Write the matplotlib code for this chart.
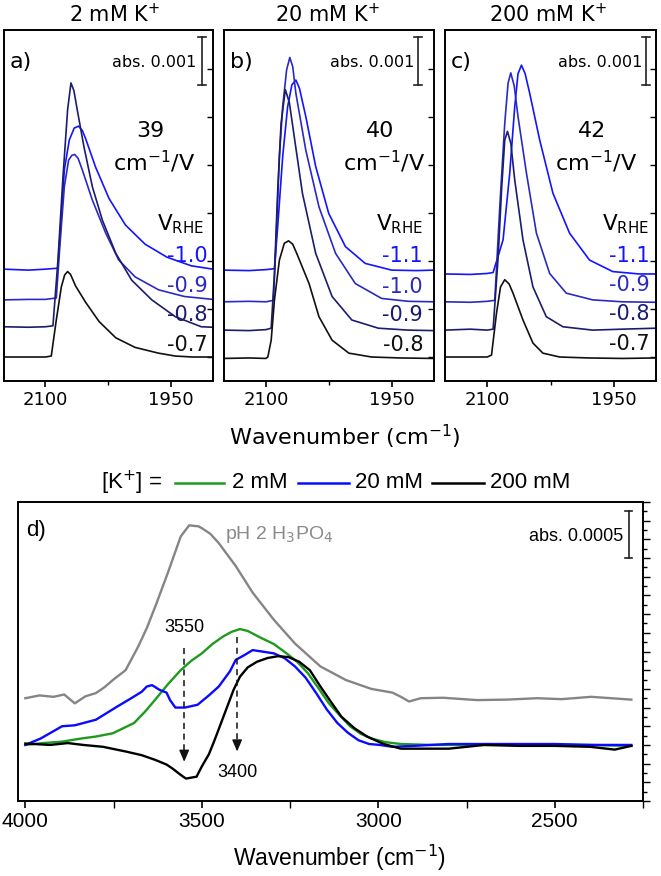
import matplotlib
matplotlib.use("Agg")
import matplotlib.pyplot as plt
from matplotlib import font_manager
from matplotlib.lines import Line2D
from matplotlib.ticker import MultipleLocator, FixedLocator, NullFormatter

# ---------------- data: top panels (absorbance in units of 1e-3, stacked offsets) -------------
# panel a: 2 mM K+
a_m07_wn = [2150, 2120, 2100, 2093, 2087, 2081, 2077, 2073.5, 2070, 2064, 2052, 2036, 2016, 1993, 1965, 1945, 1925, 1900]
a_m07_y  = [0.50, 0.50, 0.50, 0.52, 1.27, 1.96, 2.21, 2.28, 2.22, 1.98, 1.64, 1.24, 0.90, 0.70, 0.58, 0.52, 0.50, 0.50]
a_m08_wn = [2150, 2120, 2100, 2091, 2085, 2079, 2073.5, 2069.5, 2066, 2062, 2054, 2044, 2032, 2016, 1997, 1973, 1945, 1914, 1900]
a_m08_y  = [1.13, 1.12, 1.13, 1.15, 2.52, 4.26, 5.65, 6.21, 6.05, 5.65, 4.88, 4.05, 3.35, 2.66, 2.10, 1.69, 1.34, 1.13, 1.12]
a_m09_wn = [2150, 2120, 2100, 2087, 2082.5, 2077.4, 2072.3, 2068.5, 2065, 2061, 2056, 2044, 2028, 2012.5, 1993, 1965, 1934, 1900]
a_m09_y  = [1.69, 1.70, 1.70, 1.73, 2.87, 4.05, 4.60, 4.70, 4.72, 4.64, 4.40, 3.77, 3.08, 2.52, 2.17, 1.90, 1.76, 1.70]
a_m10_wn = [2150, 2120, 2100, 2085.3, 2081.3, 2077.4, 2071.5, 2065.6, 2060.5, 2056, 2052, 2040, 2024, 2004.5, 1981, 1955, 1926, 1900]
a_m10_y  = [2.33, 2.31, 2.33, 2.35, 3.35, 4.40, 5.02, 5.27, 5.31, 5.22, 5.05, 4.45, 3.80, 3.25, 2.85, 2.58, 2.40, 2.33]

# panel b: 20 mM K+
b_m08_wn = [2150, 2120, 2100, 2097.7, 2093.7, 2089.8, 2083.9, 2078, 2073, 2068, 2063, 2048.5, 2036.7, 2021, 2001, 1974, 1940, 1900]
b_m08_y  = [0.47, 0.48, 0.47, 0.50, 0.85, 1.69, 2.52, 2.87, 2.92, 2.85, 2.65, 2.03, 1.34, 0.85, 0.58, 0.50, 0.48, 0.47]
b_m09_wn = [2150, 2120, 2100, 2093.7, 2089.8, 2085.9, 2081.9, 2076.8, 2072, 2065.6, 2056.4, 2040.6, 2021, 1997.4, 1965.8, 1930, 1900]
b_m09_y  = [1.06, 1.05, 1.07, 1.10, 2.24, 3.98, 5.37, 6.07, 5.80, 5.02, 3.91, 2.66, 1.76, 1.27, 1.10, 1.06, 1.05]
b_m10_wn = [2150, 2120, 2100, 2091, 2087.8, 2083.9, 2080, 2075.3, 2071.5, 2068, 2064.2, 2052.4, 2036.7, 2016.9, 1993.3, 1961.9, 1930, 1900]
b_m10_y  = [1.65, 1.66, 1.65, 1.68, 2.94, 4.67, 5.71, 6.48, 6.74, 6.55, 5.99, 4.81, 3.63, 2.66, 2.03, 1.72, 1.66, 1.65]
b_m11_wn = [2150, 2120, 2100, 2089.8, 2085.9, 2080, 2074.1, 2069, 2064.2, 2060, 2052.4, 2040.6, 2025, 2005.1, 1981.5, 1950, 1920, 1900]
b_m11_y  = [2.31, 2.30, 2.32, 2.34, 3.22, 4.67, 5.71, 6.17, 6.27, 6.10, 5.51, 4.47, 3.49, 2.80, 2.45, 2.31, 2.30, 2.31]

# panel c: 200 mM K+
c_m07_wn = [2150, 2120, 2100, 2094.9, 2089, 2084.2, 2079.2, 2074, 2069.4, 2057.6, 2045.8, 2034, 2014.2, 1980, 1940, 1900]
c_m07_y  = [0.50, 0.50, 0.50, 0.54, 1.41, 1.96, 2.11, 2.02, 1.83, 1.27, 0.79, 0.58, 0.50, 0.48, 0.47, 0.48]
c_m08_wn = [2150, 2120, 2100, 2093, 2087, 2083, 2079.2, 2076, 2072, 2067.4, 2057.6, 2045.8, 2030, 2010.3, 1975, 1940, 1900]
c_m08_y  = [1.06, 1.08, 1.06, 1.08, 2.59, 3.98, 5.02, 5.20, 4.95, 4.19, 2.94, 1.96, 1.34, 1.13, 1.06, 1.08, 1.10]
c_m09_wn = [2150, 2120, 2100, 2091, 2085.1, 2079.2, 2075.3, 2072.1, 2068, 2063.5, 2053.5, 2041.7, 2026, 2006.3, 1975, 1940, 1900]
c_m09_y  = [1.65, 1.64, 1.66, 1.68, 3.63, 5.37, 6.20, 6.42, 6.15, 5.51, 4.33, 3.08, 2.24, 1.83, 1.69, 1.65, 1.64]
c_m11_wn = [2150, 2120, 2100, 2093, 2081.2, 2073.3, 2067.4, 2063.5, 2059.4, 2055, 2049.6, 2037.8, 2022.1, 2002.4, 1978.8, 1951.3, 1920, 1900]
c_m11_y  = [2.23, 2.22, 2.24, 2.26, 2.94, 4.33, 5.71, 6.40, 6.58, 6.40, 5.99, 5.02, 3.91, 3.08, 2.52, 2.28, 2.23, 2.23]

panel_titles = ["2 mM K$^{+}$", "20 mM K$^{+}$", "200 mM K$^{+}$"]
panel_letters = ["a)", "b)", "c)"]
slopes = ["39", "40", "42"]
a_labels = ["-1.0", "-0.9", "-0.8", "-0.7"]
b_labels = ["-1.1", "-1.0", "-0.9", "-0.8"]
c_labels = ["-1.1", "-0.9", "-0.8", "-0.7"]

# ---------------- data: panel d (absorbance in units of 1e-4) ----------------
gray_wn = [4000, 3960, 3920, 3890, 3860, 3830, 3800, 3775, 3752, 3716, 3680, 3656, 3632, 3596, 3560, 3536,
           3510, 3500, 3476, 3452, 3404, 3356, 3296, 3236, 3164, 3092, 3020, 2960, 2936, 2913, 2880, 2817,
           2720, 2637, 2550, 2480, 2397, 2340, 2283]
gray_y = [11.0, 11.3, 11.15, 11.4, 10.45, 11.2, 11.55, 12.2, 12.95, 14.0, 16.55, 18.5, 20.8, 24.45, 28.3, 29.5,
          29.4, 29.2, 28.6, 27.6, 25.15, 22.3, 19.4, 16.85, 14.4, 12.95, 12.0, 11.6, 11.15, 10.65, 11.0, 11.05,
          10.8, 10.85, 11.0, 10.9, 11.15, 11.0, 10.85]
green_wn = [4000, 3950, 3896, 3840, 3800, 3752, 3692, 3660, 3632, 3596, 3560, 3530, 3500, 3470, 3440, 3416,
            3392, 3370, 3332, 3296, 3260, 3230, 3200, 3170, 3140, 3110, 3080, 3050, 3020, 2980, 2936, 2850,
            2700, 2550, 2400, 2283]
green_y = [6.0, 6.2, 6.35, 6.7, 6.9, 7.25, 8.35, 9.6, 10.85, 12.5, 14.0, 15.0, 15.8, 16.8, 17.6, 18.1,
           18.4, 18.2, 17.45, 16.8, 15.8, 14.9, 13.7, 12.1, 10.45, 9.2, 8.0, 7.2, 6.7, 6.3, 6.1, 6.0,
           6.0, 6.0, 6.0, 5.9]
blue_wn = [4000, 3956, 3896, 3860, 3800, 3770, 3740, 3700, 3670, 3656, 3641, 3620, 3600, 3590, 3575, 3548,
           3512, 3480, 3452, 3420, 3404, 3380, 3356, 3330, 3296, 3266, 3236, 3206, 3176, 3146, 3116, 3086,
           3056, 3026, 2996, 2960, 2900, 2800, 2700, 2600, 2500, 2400, 2283]
blue_y = [6.0, 6.7, 8.0, 8.1, 8.7, 9.4, 10.1, 11.0, 11.7, 12.25, 12.4, 11.9, 11.6, 10.8, 10.0, 10.0,
          10.3, 11.3, 12.25, 13.9, 15.1, 15.6, 16.15, 16.0, 15.8, 15.3, 14.4, 13.2, 11.55, 9.8, 8.35, 7.3,
          6.5, 6.1, 6.0, 5.8, 5.9, 6.1, 6.1, 6.1, 6.1, 6.0, 6.0]
black_wn = [4000, 3930, 3880, 3836, 3780, 3716, 3670, 3632, 3600, 3584, 3560, 3545, 3530, 3515, 3500, 3480,
            3464, 3445, 3428, 3410, 3392, 3370, 3344, 3314, 3284, 3254, 3224, 3194, 3164, 3134, 3104, 3068,
            3032, 2985, 2936, 2880, 2800, 2700, 2600, 2500, 2400, 2330, 2283]
black_y = [6.15, 6.0, 6.2, 6.0, 5.8, 5.3, 4.9, 4.4, 3.9, 3.5, 2.8, 2.4, 2.5, 2.6, 3.7, 5.0,
           6.5, 8.4, 10.1, 11.9, 13.3, 14.3, 14.9, 15.3, 15.5, 15.4, 14.9, 14.0, 12.25, 10.6, 9.0, 7.8,
           6.9, 6.1, 5.6, 5.6, 5.6, 6.0, 5.9, 5.9, 5.8, 5.5, 5.9]
legend_labels = ["2 mM", "20 mM", "200 mM"]
arrow_positions = [3550, 3400]

# ---------------- styling ----------------
C_BRIGHT = "#1414ff"
C_MED = "#2a2ac2"
C_NAVY = "#1c1c6e"
C_BLACK = "#111111"

W, H = 661, 876
fig = plt.figure(figsize=(W / 100, H / 100), dpi=100)
plt.rcParams["font.family"] = ["DejaVu Sans"]

avail = {f.name for f in font_manager.fontManager.ttflist}
NARROW = "Liberation Sans Narrow" if "Liberation Sans Narrow" in avail else "Liberation Sans"


def px_axes(left, top, right, bottom):
    return fig.add_axes([left / W, 1 - bottom / H, (right - left) / W, (bottom - top) / H])


top_boxes = [(3.5, 30, 213, 381), (224, 30, 433.5, 381), (445, 30, 656, 381)]
series = [
    [(a_m10_wn, a_m10_y, C_BRIGHT), (a_m09_wn, a_m09_y, C_MED), (a_m08_wn, a_m08_y, C_NAVY), (a_m07_wn, a_m07_y, C_BLACK)],
    [(b_m11_wn, b_m11_y, C_BRIGHT), (b_m10_wn, b_m10_y, C_MED), (b_m09_wn, b_m09_y, C_NAVY), (b_m08_wn, b_m08_y, C_BLACK)],
    [(c_m11_wn, c_m11_y, C_BRIGHT), (c_m09_wn, c_m09_y, C_MED), (c_m08_wn, c_m08_y, C_NAVY), (c_m07_wn, c_m07_y, C_BLACK)],
]
labels_all = [a_labels, b_labels, c_labels]
label_y_px = [[256, 286, 315, 345], [256, 287, 315, 345], [256, 285, 314, 344]]
slope_x_px = [150, 380, 592]
label_right_px = [208, 423, 650]
vrhe_x_px = [181, 400, 626]
title_x_px = [115, 327, 548]
bar_x_px = [202, 418, 646]
abs_right_px = [196, 414, 642]

YMAX = 351 / 48.0

for i, (l, t, r, b) in enumerate(top_boxes):
    ax = px_axes(l, t, r, b)
    for wn, y, col in series[i]:
        ax.plot(wn, y, color=col, lw=1.2)
    ax.set_xlim(2150, 1900)
    ax.set_ylim(0, YMAX)
    ax.xaxis.set_major_locator(FixedLocator([2100, 1950]))
    ax.xaxis.set_minor_locator(FixedLocator([2025]))
    ax.yaxis.set_major_locator(FixedLocator([0.5 + k for k in range(7)]))
    ax.yaxis.set_major_formatter(NullFormatter())
    ax.tick_params(axis="x", which="major", direction="out", length=4, width=1.2, labelsize=13, pad=3)
    ax.tick_params(axis="x", which="minor", direction="out", length=3, width=1.0)
    ax.tick_params(axis="y", which="major", left=False, right=True, direction="in", length=4, width=1.0)
    for s in ax.spines.values():
        s.set_linewidth(1.4)

    def fx(xp):
        return (xp - l) / (r - l)

    def fy(yp):
        return (b - yp) / (b - t)

    ax.text(fx(l + 6), fy(62), panel_letters[i], transform=ax.transAxes, fontsize=16, va="center", ha="left")
    ax.text(fx(abs_right_px[i]), fy(62), "abs. 0.001", transform=ax.transAxes, fontsize=11.5, va="center", ha="right")
    # scale bar
    bx = fx(bar_x_px[i])
    ax.plot([bx, bx], [fy(37), fy(85)], transform=ax.transAxes, color="#222222", lw=1.2)
    for yy in (fy(37), fy(85)):
        ax.plot([bx - 0.02, bx + 0.02], [yy, yy], transform=ax.transAxes, color="#222222", lw=1.2)
    ax.text(fx(slope_x_px[i]), fy(131), slopes[i], transform=ax.transAxes, fontsize=16, ha="center", va="center")
    ax.text(fx(slope_x_px[i] + 4), fy(162), "cm$^{-1}$/V", transform=ax.transAxes, fontsize=16, ha="center", va="center")
    ax.text(fx(vrhe_x_px[i]), fy(224), "V$_{\\mathregular{RHE}}$", transform=ax.transAxes, fontsize=15.5, ha="center", va="center")
    for lab, yp, (_, _, col) in zip(labels_all[i], label_y_px[i], series[i]):
        ax.text(fx(label_right_px[i]), fy(yp), lab, transform=ax.transAxes, fontsize=15, ha="right", va="center", color=col)
    fig.text(title_x_px[i] / W, 1 - 14 / H, panel_titles[i], fontsize=15, ha="center", va="center")

fig.text(345 / W, 1 - 437 / H, "Wavenumber (cm$^{-1}$)", fontsize=16, ha="center", va="center")

# ---------------- panel d ----------------
dl, dt, dr, db = 18.3, 502, 643, 801
axd = px_axes(dl, dt, dr, db)
axd.plot(gray_wn, gray_y, color="#858585", lw=1.7)
axd.plot(green_wn, green_y, color="#1e9a1e", lw=1.7)
axd.plot(blue_wn, blue_y, color="#0a0aff", lw=1.7)
axd.plot(black_wn, black_y, color="#000000", lw=1.7)
axd.set_xlim(4020, 2250)
axd.set_ylim(0, 32)
axd.xaxis.set_major_locator(MultipleLocator(500))
axd.xaxis.set_minor_locator(MultipleLocator(250))
axd.yaxis.set_major_locator(MultipleLocator(2))
axd.yaxis.set_minor_locator(MultipleLocator(1))
axd.yaxis.set_major_formatter(NullFormatter())
axd.tick_params(axis="x", which="major", direction="out", length=5, width=1.2, labelsize=15, pad=3)
axd.tick_params(axis="x", which="minor", direction="out", length=5, width=1.0)
axd.tick_params(axis="y", which="both", left=False, right=True, direction="out", width=1.0)
axd.tick_params(axis="y", which="major", length=5)
axd.tick_params(axis="y", which="minor", length=3)
for lab in axd.get_xticklabels():
    lab.set_fontfamily(NARROW)
for s in axd.spines.values():
    s.set_linewidth(1.4)

axd.text(0.012, 0.905, "d)", transform=axd.transAxes, fontsize=16, family=NARROW, va="center", ha="left")
axd.text(3434, 28.5, "pH 2 H$_3$PO$_4$", color="#8a8a8a", fontsize=14, family=NARROW, va="center", ha="left")
axd.text(2307, 28.3, "abs. 0.0005", fontsize=13, family=NARROW, va="center", ha="right")
axd.plot([2290, 2290], [26.0, 31.0], color="#222222", lw=1.2)
for yy in (26.0, 31.0):
    axd.plot([2300, 2280], [yy, yy], color="#222222", lw=1.2)

arrow_tops = [16.4, 17.5]
arrow_bottoms = [3.9, 5.0]
label_ys = [18.6, 3.1]
for xw, yt, yb, ly in zip(arrow_positions, arrow_tops, arrow_bottoms, label_ys):
    axd.plot([xw, xw], [yt, yb + 1.2], color="#111111", lw=1.1, ls=(0, (4, 3)))
    axd.annotate("", xy=(xw, yb), xytext=(xw, yb + 1.6),
                 arrowprops=dict(arrowstyle="-|>,head_length=0.7,head_width=0.3", color="#111111", lw=1.0))
    axd.text(xw, ly, str(xw), fontsize=13, family=NARROW, ha="center", va="center")

fig.text(340 / W, 1 - 858 / H, "Wavenumber (cm$^{-1}$)", fontsize=16.5, family=NARROW, ha="center", va="center")

# legend row
ly_fig = 1 - 483 / H
fig.text(101 / W, ly_fig, "[K$^{+}$] =", fontsize=16, family=NARROW, ha="left", va="center")
leg_cols = ["#1e9a1e", "#0a0aff", "#000000"]
line_x = [(175, 224), (298, 349), (432, 484)]
text_x = [232, 355, 490]
for (x0, x1), tx, col, lab in zip(line_x, text_x, leg_cols, legend_labels):
    fig.add_artist(Line2D([x0 / W, x1 / W], [ly_fig, ly_fig], color=col, lw=1.8, transform=fig.transFigure))
    fig.text(tx / W, ly_fig, lab, fontsize=16, family=NARROW, ha="left", va="center")

fig.savefig("out.png", dpi=100)
